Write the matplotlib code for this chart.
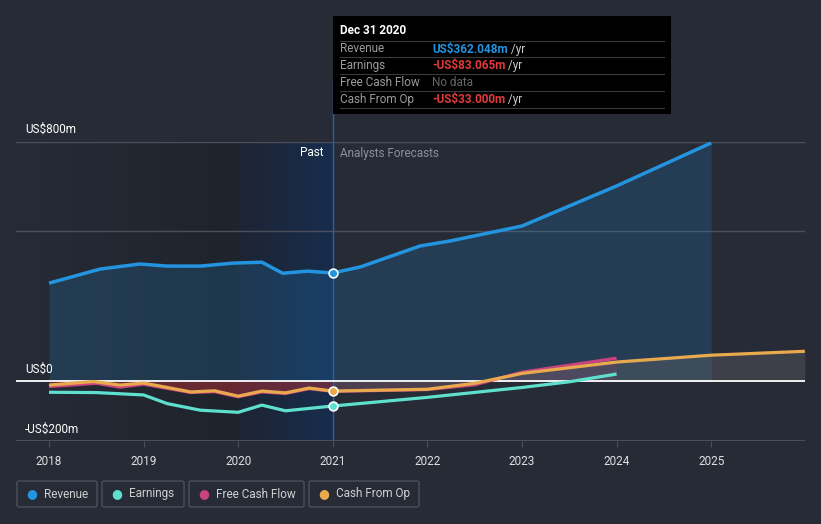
import matplotlib.pyplot as plt
import numpy as np
from matplotlib.patches import FancyBboxPatch, Rectangle

plt.rcParams["font.family"] = ["Roboto", "DejaVu Sans"]

# values in US$m
rev_x = [2018.0, 2018.54, 2018.96, 2019.25, 2019.6, 2019.95, 2020.25, 2020.47, 2020.73, 2021.0,
         2021.29, 2021.92, 2022.24, 2023.0, 2024.0, 2025.0]
rev_y = [328, 375, 392, 385, 385, 395, 398, 361, 368, 362,
         382, 452, 469, 519, 653, 797]

earn_x = [2018.0, 2018.5, 2019.0, 2019.25, 2019.6, 2020.0, 2020.25, 2020.5, 2021.0,
          2022.0, 2023.0, 2023.5, 2024.0]
earn_y = [-37, -38, -46, -75, -97, -104, -80, -99, -83,
          -54, -21, -2, 24]

fcf_x = [2018.0, 2018.5, 2018.75, 2019.0, 2019.5, 2019.75, 2020.0, 2020.25, 2020.5, 2020.75,
         2021.0, 2021.5, 2022.0, 2022.5, 2023.0, 2024.0]
fcf_y = [-18, -7, -20, -10, -38, -35, -52, -36, -41, -25,
         -34, -31, -28, -12, 30, 77]

cfo_x = [2018.0, 2018.47, 2018.75, 2019.0, 2019.5, 2019.75, 2020.0, 2020.25, 2020.5, 2020.75,
         2021.0, 2021.5, 2022.0, 2022.5, 2023.0, 2024.0, 2025.0, 2025.99]
cfo_y = [-13, -1, -13, -6, -36, -32, -50, -33, -39, -23,
         -33, -30, -27, -7, 26, 64, 87, 100]

year_ticks = [2018, 2019, 2020, 2021, 2022, 2023, 2024, 2025]
legend_names = ["Revenue", "Earnings", "Free Cash Flow", "Cash From Op"]

BG = "#262b36"
C_REV = "#2394df"
C_EARN = "#5fe0cf"
C_FCF = "#c8437f"
C_CFO = "#e8a94f"
GRID = "#4a4f5a"

W, H = 821, 524
fig = plt.figure(figsize=(W / 100, H / 100), dpi=100, facecolor=BG)

x0, x1 = 2018 + (16 - 49) / 94.6, 2018 + (805 - 49) / 94.6
ax = fig.add_axes([16 / W, 1 - 441 / H, (805 - 16) / W, (441 - 142) / H])
ax.set_facecolor(BG)
ax.set_xlim(x0, x1)
ax.set_ylim(-200, 800)
for s in ax.spines.values():
    s.set_visible(False)
ax.set_yticks([])

# past shading (gradients)
grad = np.linspace(0, 1, 256).reshape(1, -1)
from matplotlib.colors import LinearSegmentedColormap
cm1 = LinearSegmentedColormap.from_list("p1", [BG, "#1f232b"])
cm2 = LinearSegmentedColormap.from_list("p2", ["#1e2433", "#172d4d"])
ax.imshow(grad, extent=[x0, 2020, -200, 800], aspect="auto", cmap=cm1, zorder=0)
ax.imshow(grad, extent=[2020, 2021, -200, 800], aspect="auto", cmap=cm2, zorder=0)
ax.set_xlim(x0, x1)
ax.set_ylim(-200, 800)

# grid lines
for gy in [800, 502]:
    ax.axhline(gy, color=GRID, lw=1, zorder=1)
ax.axhline(-200, color=GRID, lw=1.5, zorder=1)
ax.axhline(0, color="white", lw=1.3, zorder=4)

# fills
ax.fill_between(rev_x, rev_y, 0, color=C_REV, alpha=0.18, lw=0, zorder=2)
cfo_arr = np.array(cfo_y)
cfo_xa = np.array(cfo_x)
past = cfo_xa <= 2021
ax.fill_between(cfo_xa[past], cfo_arr[past], 0, color="#c0303a", alpha=0.45, lw=0, zorder=2)
ax.fill_between(cfo_xa[~past | (cfo_xa == 2021)], cfo_arr[~past | (cfo_xa == 2021)], 0,
                color="#6a6a6a", alpha=0.35, lw=0, zorder=2)
ax.fill_between(fcf_x[10:], fcf_y[10:], 0, color=C_FCF, alpha=0.12, lw=0, zorder=2)

# lines
ax.plot(earn_x, earn_y, color=C_EARN, lw=2.3, zorder=5, solid_capstyle="butt")
ax.plot(fcf_x, fcf_y, color=C_FCF, lw=2.3, zorder=5, solid_capstyle="butt")
ax.plot(cfo_x, cfo_y, color=C_CFO, lw=2.3, zorder=6, solid_capstyle="butt")
ax.plot(rev_x, rev_y, color=C_REV, lw=2.5, zorder=6, solid_capstyle="butt")

# current-date markers
ax.axvline(2021, color="#2d5f9e", lw=1, zorder=3)
ax.plot([2021, 2021], [800, 1000], color="#2d5f9e", lw=1, clip_on=False, zorder=3)
for val, c in [(rev_y[9], C_REV), (earn_y[8], C_EARN), (cfo_y[10], C_CFO)]:
    ax.scatter([2021], [val], s=40, color=c, edgecolor="white", linewidth=1.2, zorder=8)

# x axis
ax.set_xticks(year_ticks)
ax.set_xticklabels([str(y) for y in year_ticks], color="#e0e0e0", fontsize=8.5)
ax.tick_params(axis="x", length=4, color=GRID, pad=6)

# y labels
fig.text(25 / W, 1 - 129 / H, "US$800m", color="white", fontsize=8.5, va="center")
fig.text(25 / W, 1 - 369 / H, "US$0", color="white", fontsize=8.5, va="center")
fig.text(25 / W, 1 - 429 / H, "-US$200m", color="white", fontsize=8.5, va="center")

fig.text(323 / W, 1 - 153 / H, "Past", color="white", fontsize=8.5, ha="right", va="center")
fig.text(340 / W, 1 - 153 / H, "Analysts Forecasts", color="#8a8f99", fontsize=8.5, va="center")

# tooltip
fig.patches.append(Rectangle((333 / W, 1 - 114 / H), (671 - 333) / W, 98 / H,
                             transform=fig.transFigure, facecolor="black", edgecolor="none", zorder=10))
fig.text(340 / W, 1 - 31 / H, "Dec 31 2020", color="white", fontsize=8.5, fontweight="bold",
         va="center", zorder=11)
for sy in [41, 57, 74, 91, 108]:
    fig.lines.append(plt.Line2D([340 / W, 664 / W], [1 - sy / H, 1 - sy / H], transform=fig.transFigure,
                                color="#3a3a3a", lw=0.8, zorder=11))
rows = [("Revenue", "US$362.048m", C_REV, " /yr"),
        ("Earnings", "-US$83.065m", "#e03a3a", " /yr"),
        ("Free Cash Flow", "No data", "#666666", ""),
        ("Cash From Op", "-US$33.000m", "#e03a3a", " /yr")]
for i, (lab, val, c, unit) in enumerate(rows):
    yy = 1 - (49 + 17 * i) / H
    fig.text(340 / W, yy, lab, color="#9a9a9a", fontsize=8.5, va="center", zorder=11)
    t = fig.text(432 / W, yy, val, color=c, fontsize=8.5, va="center", zorder=11,
                 fontweight="bold" if unit else "normal")
    if unit:
        fig.canvas.draw()
        bb = t.get_window_extent()
        fig.text(bb.x1 / W, yy, unit, color="#cccccc", fontsize=8.5, va="center", zorder=11)

# legend boxes
boxes = [(17, 97), (102, 184), (189, 304), (309, 419)]
colors = [C_REV, C_EARN, C_FCF, C_CFO]
for (bx0, bx1), name, c in zip(boxes, legend_names, colors):
    fig.patches.append(FancyBboxPatch((bx0 / W, 1 - 507 / H), (bx1 - bx0) / W, 26 / H,
                                      boxstyle="round,pad=0,rounding_size=0.003",
                                      transform=fig.transFigure, facecolor="none",
                                      edgecolor=GRID, lw=1))
    fig.text((bx0 + 15) / W, 1 - 494 / H, "\u25cf", color=c, fontsize=9, ha="center", va="center")
    fig.text((bx0 + 27) / W, 1 - 494 / H, name, color="#d0d0d0", fontsize=8.5, va="center")

fig.savefig("out.png", dpi=100, facecolor=BG)
